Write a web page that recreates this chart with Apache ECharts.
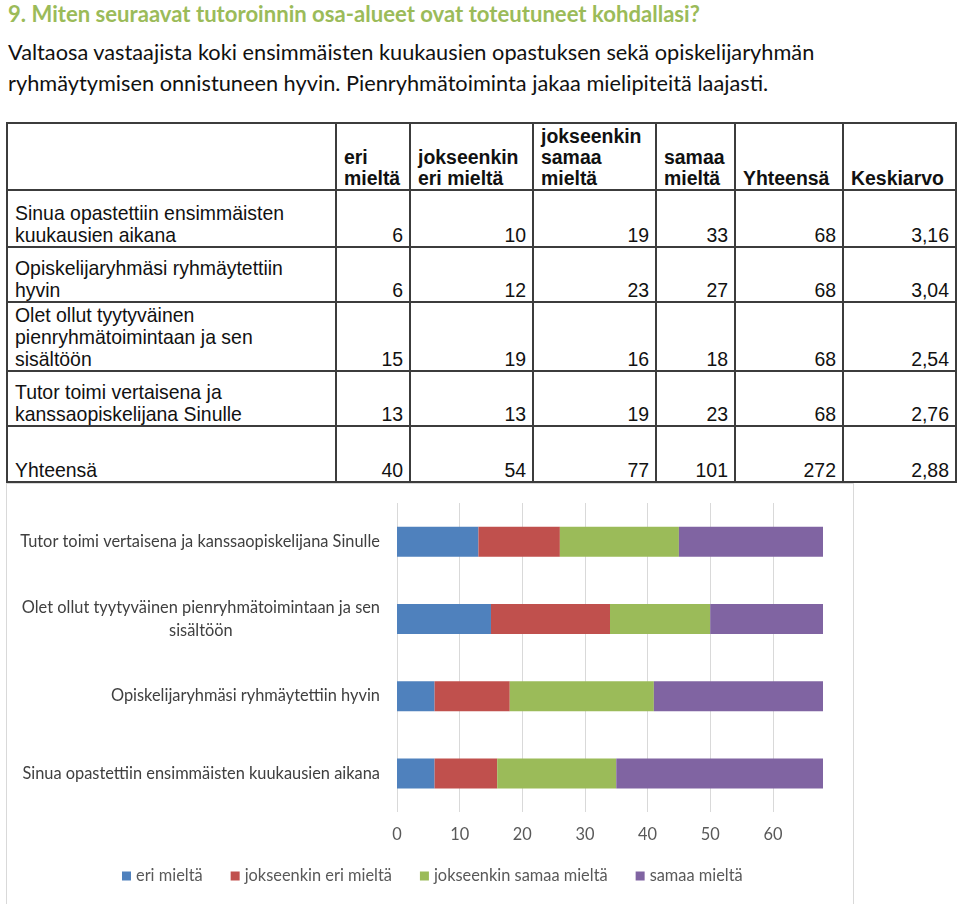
<!DOCTYPE html>
<html>
<head>
<meta charset="utf-8">
<script src="https://cdn.jsdelivr.net/npm/echarts@6/dist/echarts.min.js"></script>
<style>
  html, body { margin:0; padding:0; background:#fff; }
  body { width:960px; height:904px; position:relative; overflow:hidden; }
  .hl { position:absolute; left:8px; white-space:nowrap; font-family:Lato, sans-serif; }
  #title { top:0px; height:28px; line-height:28px; color:#9BBB59; font-weight:bold; }
  #sub1 { top:37px; height:30px; line-height:30px; color:#111; }
  #sub2 { top:68px; height:30px; line-height:30px; color:#111; }
  #tbl { position:absolute; left:6px; top:122px; border-collapse:collapse; table-layout:fixed;
         font-family:'Liberation Sans', Arial, sans-serif; color:#111; }
  #tbl td { border:2px solid #3c3c3c; vertical-align:bottom; padding:0 6px 0 7px; line-height:22px; overflow:hidden; }
  #tbl td.num { text-align:right; }
  #tbl tr.head td { font-weight:bold; text-align:left; line-height:21px; }
  #tbl .lab { width:290px; }
  #chart { position:absolute; left:6px; top:483px; width:848px; height:421px; }
  #frame { position:absolute; left:6px; top:483px; width:846px; height:440px; border:1px solid #d9d9d9; pointer-events:none; }
</style>
</head>
<body>
<div id="title" class="hl"></div>
<div id="sub1" class="hl"></div>
<div id="sub2" class="hl"></div>
<div id="frame"></div>
<table id="tbl"></table>
<div id="chart"></div>
<script>
// ---- texts ----
const titleText = '9. Miten seuraavat tutoroinnin osa-alueet ovat toteutuneet kohdallasi?';
const subtitleLines = [
  'Valtaosa vastaajista koki ensimmäisten kuukausien opastuksen sekä opiskelijaryhmän',
  'ryhmäytymisen onnistuneen hyvin. Pienryhmätoiminta jakaa mielipiteitä laajasti.'
];

// ---- data ----
const categories = [
  'Sinua opastettiin ensimmäisten kuukausien aikana',
  'Opiskelijaryhmäsi ryhmäytettiin hyvin',
  'Olet ollut tyytyväinen pienryhmätoimintaan ja sen sisältöön',
  'Tutor toimi vertaisena ja kanssaopiskelijana Sinulle'
];
const seriesNames = ['eri mieltä', 'jokseenkin eri mieltä', 'jokseenkin samaa mieltä', 'samaa mieltä'];
const eriMielta       = [6, 6, 15, 13];
const jokseenkinEri   = [10, 12, 19, 13];
const jokseenkinSamaa = [19, 23, 16, 19];
const samaaMielta     = [33, 27, 18, 23];
const yhteensa        = [68, 68, 68, 68];
const keskiarvo       = ['3,16', '3,04', '2,54', '2,76'];
const totalLabel      = 'Yhteensä';
const totalRow        = [40, 54, 77, 101, 272, '2,88'];
const tableHeaders    = ['eri mieltä', 'jokseenkin eri mieltä', 'jokseenkin samaa mieltä', 'samaa mieltä', 'Yhteensä', 'Keskiarvo'];
const xTicks = { min: 0, max: 68, interval: 10 };

const colors = ['#4F81BD', '#C0504D', '#9BBB59', '#8064A2'];

// ---- measurement helpers ----
const cv = document.createElement('canvas').getContext('2d');
function fitSize(text, family, weight, target) {
  cv.font = weight + ' 100px ' + family;
  return 100 * target / cv.measureText(text).width;
}
function textW(text, size, family) {
  cv.font = 'normal ' + size + 'px ' + family;
  return cv.measureText(text).width;
}

// ---- header ----
const FF = 'Lato';
const tEl = document.getElementById('title');
tEl.textContent = titleText;
tEl.style.fontSize = fitSize(titleText, FF, 'bold', 692).toFixed(2) + 'px';
const subSize = Math.min(fitSize(subtitleLines[0], FF, 'normal', 807), fitSize(subtitleLines[1], FF, 'normal', 779));
['sub1', 'sub2'].forEach((id, i) => {
  const el = document.getElementById(id);
  el.textContent = subtitleLines[i];
  el.style.fontSize = subSize.toFixed(2) + 'px';
});

// ---- table ----
const LS = "'Liberation Sans'";
const tblFont = fitSize('Sinua opastettiin ensimmäisten', LS, 'normal', 269);
const tbl = document.getElementById('tbl');
tbl.style.fontSize = tblFont.toFixed(2) + 'px';
const colW = [329, 74, 123, 123, 79, 108, 113];
const rowH = [67, 57, 55, 69, 55, 56];
let html = '<colgroup>' + colW.map(w => '<col style="width:' + w + 'px">').join('') + '</colgroup>';
html += '<tr class="head" style="height:' + rowH[0] + 'px"><td></td>' + tableHeaders.map(h => '<td>' + h + '</td>').join('') + '</tr>';
categories.forEach((c, i) => {
  const vals = [eriMielta[i], jokseenkinEri[i], jokseenkinSamaa[i], samaaMielta[i], yhteensa[i], keskiarvo[i]];
  html += '<tr style="height:' + rowH[i + 1] + 'px"><td><div class="lab">' + c + '</div></td>' +
    vals.map(v => '<td class="num">' + v + '</td>').join('') + '</tr>';
});
html += '<tr style="height:' + rowH[5] + 'px"><td>' + totalLabel + '</td>' + totalRow.map(v => '<td class="num">' + v + '</td>').join('') + '</tr>';
tbl.innerHTML = html;

// ---- chart ----
const chartFont = fitSize(categories[3], FF, 'normal', 360);
const labelMaxW = 364;
function wrapLabel(text) {
  const words = text.split(' ');
  const lines = [];
  let cur = '';
  words.forEach(w => {
    const t = cur ? cur + ' ' + w : w;
    if (cur && textW(t, chartFont, FF) > labelMaxW) { lines.push(cur); cur = w; }
    else cur = t;
  });
  lines.push(cur);
  if (lines.length === 1) return text;
  return lines.map(l => '{c|' + l + '}').join('\n');
}

const chart = echarts.init(document.getElementById('chart'), null, { renderer: 'canvas' });
const seriesData = [eriMielta, jokseenkinEri, jokseenkinSamaa, samaaMielta];
chart.setOption({
  animation: false,
  color: colors,
  textStyle: { fontFamily: FF },
  grid: { left: 391, right: 31, top: 20, bottom: 92, containLabel: false },
  legend: {
    data: seriesNames,
    left: 111, top: 380,
    icon: 'rect', itemWidth: 9, itemHeight: 9, itemGap: 28,
    textStyle: { fontFamily: FF, fontSize: chartFont, color: '#595959' }
  },
  xAxis: {
    type: 'value', min: xTicks.min, max: xTicks.max, interval: xTicks.interval,
    axisLine: { show: false }, axisTick: { show: false },
    axisLabel: { color: '#595959', fontFamily: FF, fontSize: chartFont, margin: 15, showMaxLabel: false },
    splitLine: { show: true, showMaxLine: false, lineStyle: { color: '#d9d9d9', width: 1 } }
  },
  yAxis: {
    type: 'category', data: categories,
    axisLine: { show: false }, axisTick: { show: false },
    axisLabel: {
      margin: 17, color: '#404040', fontFamily: FF, fontSize: chartFont, lineHeight: 23,
      formatter: wrapLabel,
      rich: { c: { align: 'center', color: '#404040', fontFamily: FF, fontSize: chartFont, lineHeight: 23 } }
    },
    splitLine: { show: false }
  },
  series: seriesNames.map((n, i) => ({
    name: n, type: 'bar', stack: 'total', data: seriesData[i],
    barWidth: 30, itemStyle: { color: colors[i] }
  }))
});
</script>
</body>
</html>
